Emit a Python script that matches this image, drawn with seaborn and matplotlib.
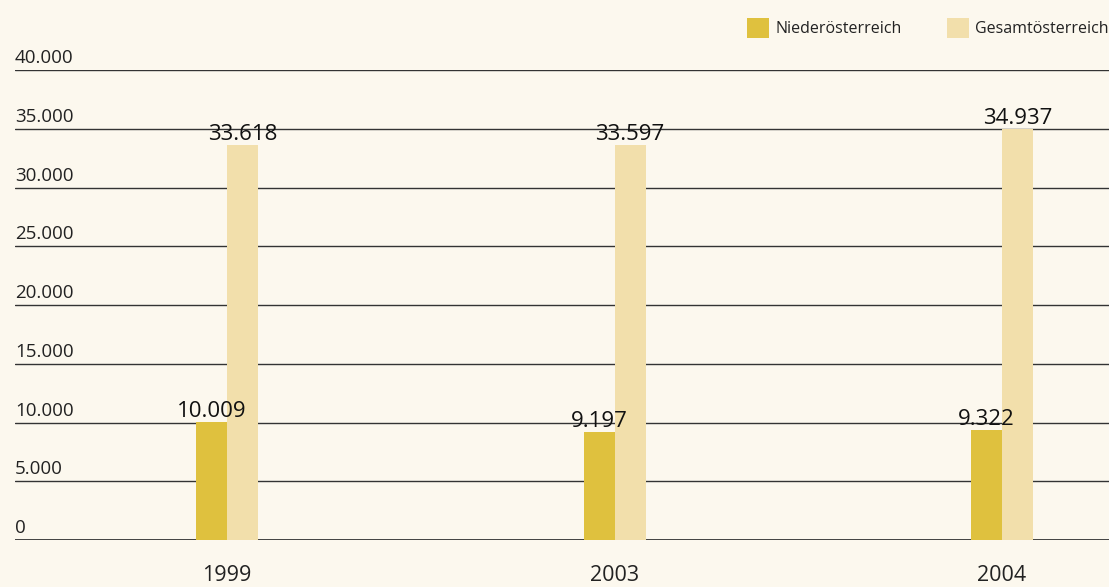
import pandas as pd
import matplotlib.pyplot as plt
import seaborn as sns

# Data
years = ["1999", "2003", "2004"]
regions = ["Niederösterreich", "Gesamtösterreich"]
noe_values = [10009, 9197, 9322]
aut_values = [33618, 33597, 34937]
y_ticks = [0, 5000, 10000, 15000, 20000, 25000, 30000, 35000, 40000]

colors = ["#DFC13E", "#F2DFAB"]
bg = "#FCF8EE"
text_col = "#222222"


def fmt(v):
    return f"{v:,.0f}".replace(",", ".")


def generate_plot():
    df = pd.DataFrame({
        "Jahr": years * 2,
        "Region": [regions[0]] * 3 + [regions[1]] * 3,
        "Wert": noe_values + aut_values,
    })

    sns.set_theme(style="white")
    plt.rcParams["font.family"] = ["Open Sans", "DejaVu Sans"]

    fig = plt.figure(figsize=(11.09, 5.87), dpi=100, facecolor=bg)
    ax = fig.add_axes([15 / 1109, 47 / 587, 1094 / 1109, 470 / 587])
    ax.set_facecolor(bg)

    sns.barplot(data=df, x="Jahr", y="Wert", hue="Region", hue_order=regions,
                order=years, palette=colors, width=0.16, saturation=1,
                linewidth=0, ax=ax, zorder=3)

    ax.set_ylim(0, 40000)
    ax.set_xlim(-0.547, 2.276)

    # grid lines with labels sitting on top, left aligned
    for t in y_ticks:
        ax.axhline(t, color="#333333", lw=1.0 if t else 1.3, zorder=1)
        ax.text(0, t + 250, fmt(t), transform=ax.get_yaxis_transform(),
                ha="left", va="bottom", fontsize=13.5, color=text_col)

    ax.set_yticks([])
    ax.set_xlabel("")
    ax.set_ylabel("")
    ax.tick_params(axis="x", length=0, pad=18, labelsize=15.5, labelcolor=text_col)
    for s in ax.spines.values():
        s.set_visible(False)

    for cont in ax.containers:
        ax.bar_label(cont, labels=[fmt(v) for v in cont.datavalues],
                     padding=0, fontsize=16, fontweight="medium",
                     color="#111111", zorder=5)

    ax.legend(loc="center right", bbox_to_anchor=(1.0, 1 + 42 / 470),
              ncol=2, frameon=False, fontsize=11.5, handlelength=1.4,
              handleheight=1.6, handletextpad=0.4, columnspacing=2.8,
              borderaxespad=0, borderpad=0, labelcolor=text_col)

    fig.savefig("out.png", dpi=100, facecolor=bg)
    plt.close(fig)


if __name__ == "__main__":
    generate_plot()
